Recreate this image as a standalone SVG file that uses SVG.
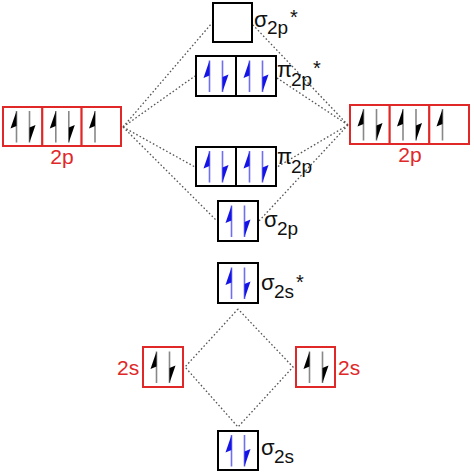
<svg xmlns="http://www.w3.org/2000/svg" xmlns:xlink="http://www.w3.org/1999/xlink" width="474" height="474" viewBox="0 0 474 474">
<style>
.mo{fill:#fff;stroke:#000;stroke-width:2}
.ao{fill:#fff;stroke:#e02828;stroke-width:2}
.lbl{font-family:"Liberation Sans",Arial,sans-serif;fill:#111}
.big{font-size:22px}
.sub{font-size:19px}
.ast{font-size:20px}
.red{font-family:"Liberation Sans",Arial,sans-serif;font-size:21px;fill:#e02828}
.dot{fill:none;stroke:#555;stroke-width:1.3;stroke-dasharray:1.6,2.2}
.bl{stroke:#6f6ff0;stroke-width:1.6}
.bt{fill:#1414e6}
.gl{stroke:#888;stroke-width:1.6}
.kt{fill:#000}
</style>
<defs>
<g id="upB"><line class="bl" x1="0" y1="0" x2="0" y2="31.5"/><polygon class="bt" points="0,0 -6,17.5 0,15"/></g>
<g id="dnB"><line class="bl" x1="0" y1="0" x2="0" y2="31.5"/><polygon class="bt" points="0,31.5 6,14 0,16.5"/></g>
<g id="upK"><line class="gl" x1="0" y1="0" x2="0" y2="31.5"/><polygon class="kt" points="0,0 -6,17.5 0,15"/></g>
<g id="dnK"><line class="gl" x1="0" y1="0" x2="0" y2="31.5"/><polygon class="kt" points="0,31.5 6,14 0,16.5"/></g>
</defs>

<g id="connectors">
<line class="dot" x1="123" y1="127" x2="212" y2="23"/>
<line class="dot" x1="123" y1="127" x2="195" y2="76"/>
<line class="dot" x1="123" y1="127" x2="195" y2="167"/>
<line class="dot" x1="123" y1="127" x2="217" y2="221"/>
<line class="dot" x1="348" y1="125" x2="253" y2="25"/>
<line class="dot" x1="348" y1="125" x2="277" y2="78"/>
<line class="dot" x1="348" y1="125" x2="277" y2="167"/>
<line class="dot" x1="348" y1="125" x2="259" y2="221"/>
<polyline class="dot" points="238,309 185,367 238,427 293,367 238,309"/>
</g>

<g id="sigma2p_star">
<rect class="mo" x="213" y="3" width="39" height="39"/>
<text class="lbl big" x="254" y="27">σ</text>
<text class="lbl sub" x="267" y="34">2p</text>
<text class="lbl ast" x="290" y="24">*</text>
</g>

<g id="pi2p_star">
<rect class="mo" x="196" y="56" width="40" height="40"/>
<rect class="mo" x="236" y="56" width="40" height="40"/>
<use xlink:href="#upB" x="209.5" y="60.5"/>
<use xlink:href="#dnB" x="222.5" y="60.5"/>
<use xlink:href="#upB" x="249.5" y="60.5"/>
<use xlink:href="#dnB" x="262.5" y="60.5"/>
<text class="lbl big" x="277" y="77">π</text>
<text class="lbl sub" x="291" y="86">2p</text>
<text class="lbl ast" x="313" y="75">*</text>
</g>

<g id="pi2p">
<rect class="mo" x="196" y="147" width="40" height="39"/>
<rect class="mo" x="236" y="147" width="40" height="39"/>
<use xlink:href="#upB" x="209.5" y="151"/>
<use xlink:href="#dnB" x="222.5" y="151"/>
<use xlink:href="#upB" x="249.5" y="151"/>
<use xlink:href="#dnB" x="262.5" y="151"/>
<text class="lbl big" x="277" y="164">π</text>
<text class="lbl sub" x="291" y="173">2p</text>
</g>

<g id="sigma2p">
<rect class="mo" x="218" y="201" width="40" height="40"/>
<use xlink:href="#upB" x="231.5" y="205.5"/>
<use xlink:href="#dnB" x="244.5" y="205.5"/>
<text class="lbl big" x="264" y="227">σ</text>
<text class="lbl sub" x="277" y="235">2p</text>
</g>

<g id="sigma2s_star">
<rect class="mo" x="218" y="263" width="40" height="40"/>
<use xlink:href="#upB" x="231.5" y="267.5"/>
<use xlink:href="#dnB" x="244.5" y="267.5"/>
<text class="lbl big" x="261" y="290">σ</text>
<text class="lbl sub" x="274" y="298">2s</text>
<text class="lbl ast" x="296" y="289">*</text>
</g>

<g id="sigma2s">
<rect class="mo" x="218" y="431" width="40" height="39"/>
<use xlink:href="#upB" x="231.5" y="435"/>
<use xlink:href="#dnB" x="244.5" y="435"/>
<text class="lbl big" x="261" y="455">σ</text>
<text class="lbl sub" x="274" y="463">2s</text>
</g>

<g id="left_2p">
<rect class="ao" x="3" y="107" width="39.3" height="39"/>
<rect class="ao" x="42.3" y="107" width="39.3" height="39"/>
<rect class="ao" x="81.6" y="107" width="39.4" height="39"/>
<use xlink:href="#upK" x="16.5" y="111"/>
<use xlink:href="#dnK" x="29.5" y="111"/>
<use xlink:href="#upK" x="55.8" y="111"/>
<use xlink:href="#dnK" x="68.8" y="111"/>
<use xlink:href="#upK" x="95" y="111"/>
<text class="red" x="62" y="164" text-anchor="middle">2p</text>
</g>

<g id="right_2p">
<rect class="ao" x="350" y="105" width="39.7" height="39"/>
<rect class="ao" x="389.7" y="105" width="39.6" height="39"/>
<rect class="ao" x="429.3" y="105" width="39.7" height="39"/>
<use xlink:href="#upK" x="363.5" y="109"/>
<use xlink:href="#dnK" x="376.5" y="109"/>
<use xlink:href="#upK" x="403" y="109"/>
<use xlink:href="#dnK" x="416" y="109"/>
<use xlink:href="#upK" x="442.5" y="109"/>
<text class="red" x="410" y="162" text-anchor="middle">2p</text>
</g>

<g id="left_2s">
<rect class="ao" x="143" y="347" width="40" height="40"/>
<use xlink:href="#upK" x="156.5" y="351.5"/>
<use xlink:href="#dnK" x="169.5" y="351.5"/>
<text class="red" x="117" y="375">2s</text>
</g>

<g id="right_2s">
<rect class="ao" x="296" y="347" width="39" height="40"/>
<use xlink:href="#upK" x="309.5" y="351.5"/>
<use xlink:href="#dnK" x="322.5" y="351.5"/>
<text class="red" x="338" y="375">2s</text>
</g>
</svg>
